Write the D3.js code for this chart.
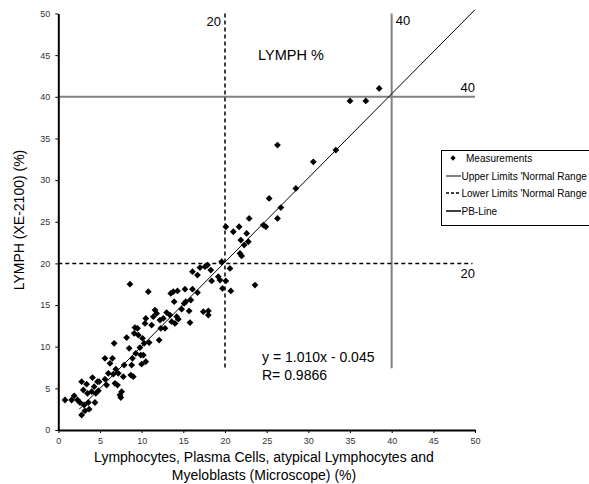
<!DOCTYPE html>
<html>
<head>
<meta charset="utf-8">
<script src="https://cdn.jsdelivr.net/npm/d3@7"></script>
<style>
  body { margin: 0; background: #fff; }
  svg { display: block; font-family: "Liberation Sans", Arial, sans-serif; }
</style>
</head>
<body>
<script>
const width = 589,
  height = 484,
  marginTop = 13.5,
  marginLeft = 58.3,
  plotRight = 475,
  plotBottom = 430;

// microscope count (x) vs XE-2100 (y), in %
const microscope = [
  0.8, 1.6, 1.9, 2.3, 2.6, 2.8, 2.8, 3.0, 3.1, 3.2, 3.4, 3.5, 3.6, 3.7, 4.0, 4.1, 4.3, 4.4, 4.5, 4.7, 4.8, 4.9,
  5.6, 5.6, 5.8, 6.0, 6.2, 6.5, 6.6, 6.7, 6.8, 6.9, 7.1, 7.2, 7.4, 7.6, 7.5, 7.8, 7.9, 8.2, 8.5, 8.6, 8.7, 8.8,
  8.9, 9.0, 9.1, 9.2, 9.3, 9.5, 9.6, 9.8, 9.9, 10.0, 10.1, 10.2, 10.3, 10.4, 10.5, 10.5, 10.8, 10.9,
  11.2, 11.4, 11.6, 11.8, 12.1, 12.2, 12.3, 12.6, 12.8, 13.0, 13.4, 13.5, 13.6, 13.8, 13.9, 14.0, 14.2, 14.3,
  14.4, 14.8, 15.1, 15.2, 15.3, 15.7, 15.8, 15.9, 16.1, 16.1, 16.7, 16.7, 17.0, 17.4, 17.6, 17.9, 18.0, 18.0,
  18.3, 18.4, 19.2, 19.4, 19.6, 19.7, 20.1, 20.1, 20.6, 20.7, 21.0, 21.7, 21.8, 21.9, 22.0, 22.3, 22.6, 22.8,
  23.6, 24.6, 24.9, 22.9, 26.3, 26.7, 25.3, 28.5, 26.3, 30.6, 33.3, 35.0, 36.9, 38.5
];
const xe2100 = [
  3.6, 3.6, 4.1, 3.6, 3.3, 5.8, 1.8, 4.8, 3.0, 2.3, 5.5, 4.4, 3.3, 2.5, 4.6, 6.3, 5.2, 3.3, 4.4, 5.8, 4.7, 5.8,
  6.1, 8.6, 5.4, 6.8, 8.0, 8.6, 6.7, 10.4, 5.6, 7.3, 5.4, 6.8, 4.2, 4.6, 3.9, 6.4, 7.8, 11.1, 9.8, 17.5, 6.6, 7.8,
  8.6, 6.4, 11.6, 12.3, 9.2, 12.2, 11.4, 9.9, 9.0, 7.9, 11.0, 9.0, 10.4, 12.8, 13.4, 8.2, 16.6, 10.5,
  12.6, 13.6, 14.4, 14.0, 10.8, 13.2, 12.2, 13.4, 12.2, 14.1, 13.8, 16.4, 13.0, 16.6, 15.4, 12.8, 13.6, 16.7,
  13.3, 14.5, 15.2, 16.9, 15.4, 14.3, 12.9, 15.6, 16.9, 19.0, 16.5, 18.6, 19.5, 14.2, 19.6, 19.8, 14.3, 13.8,
  19.2, 17.9, 18.4, 18.0, 20.2, 17.0, 17.9, 24.4, 19.4, 16.7, 23.8, 24.4, 21.2, 22.8, 20.9, 22.2, 23.6, 22.6,
  17.4, 24.6, 24.4, 25.4, 25.4, 26.7, 27.8, 29.0, 34.2, 32.2, 33.6, 39.5, 39.5, 41.0
];

const ticks = [0, 5, 10, 15, 20, 25, 30, 35, 40, 45, 50];
const upperLimit = 40;
const lowerLimit = 20;
const slope = 1.010, intercept = -0.045;
const legendLabels = ["Measurements", "Upper Limits 'Normal Range", "Lower Limits 'Normal Range", "PB-Line"];

const x = d3.scaleLinear().domain([0, 50]).range([marginLeft, plotRight]);
const y = d3.scaleLinear().domain([0, 50]).range([plotBottom, marginTop]);

const svg = d3.select("body").append("svg")
  .attr("width", width)
  .attr("height", height);

// limit lines
const grey = "#808080";
svg.append("line")
  .attr("x1", x(0)).attr("x2", x(50))
  .attr("y1", y(upperLimit)).attr("y2", y(upperLimit))
  .attr("stroke", grey).attr("stroke-width", 2);
svg.append("line")
  .attr("x1", x(upperLimit)).attr("x2", x(upperLimit))
  .attr("y1", y(50)).attr("y2", y(7.4))
  .attr("stroke", grey).attr("stroke-width", 2);
svg.append("line")
  .attr("x1", x(0)).attr("x2", x(49.7))
  .attr("y1", y(lowerLimit)).attr("y2", y(lowerLimit))
  .attr("stroke", "#000").attr("stroke-width", 1.5).attr("stroke-dasharray", "4,3");
svg.append("line")
  .attr("x1", x(lowerLimit)).attr("x2", x(lowerLimit))
  .attr("y1", y(50)).attr("y2", y(7.4))
  .attr("stroke", "#000").attr("stroke-width", 1.5).attr("stroke-dasharray", "4,3");

const limitText = svg.append("g").attr("font-size", 13).attr("fill", "#000");
limitText.append("text").attr("x", x(lowerLimit) - 4).attr("y", 26).attr("text-anchor", "end").text(lowerLimit);
limitText.append("text").attr("x", x(upperLimit) + 4).attr("y", 25).text(upperLimit);
limitText.append("text").attr("x", x(50)).attr("y", y(upperLimit) - 5).attr("text-anchor", "end").text(upperLimit);
limitText.append("text").attr("x", x(50)).attr("y", y(lowerLimit) + 15).attr("text-anchor", "end").text(lowerLimit);

// regression line
svg.append("line")
  .attr("x1", x(2.5)).attr("y1", y(slope * 2.5 + intercept))
  .attr("x2", x(50)).attr("y2", y(slope * 50 + intercept))
  .attr("stroke", "#000").attr("stroke-width", 1);

// points
const diamond = d3.symbol(d3.symbolSquare, 23);
svg.append("g")
  .selectAll("path")
  .data(microscope.map((d, i) => [d, xe2100[i]]))
  .join("path")
  .attr("d", diamond)
  .attr("transform", d => `translate(${x(d[0])},${y(d[1])}) rotate(45)`)
  .attr("fill", "#000");

// axes
const xAxis = svg.append("g")
  .attr("transform", `translate(0,${plotBottom})`)
  .call(d3.axisBottom(x).tickValues(ticks).tickSize(3).tickPadding(5).tickSizeOuter(0));
const yAxis = svg.append("g")
  .attr("transform", `translate(${marginLeft},0)`)
  .call(d3.axisLeft(y).tickValues(ticks).tickSize(3).tickPadding(5).tickSizeOuter(0));
[xAxis, yAxis].forEach(a => {
  a.attr("font-family", null).attr("font-size", 9);
  a.select(".domain").attr("stroke-width", 2);
  a.selectAll("text").attr("fill", "#333");
});

// titles
svg.append("text").attr("x", 258).attr("y", 60).attr("font-size", 14.5).text("LYMPH %");
svg.append("text").attr("x", 262).attr("y", 362).attr("font-size", 14).text("y = 1.010x - 0.045");
svg.append("text").attr("x", 262).attr("y", 380).attr("font-size", 14).text("R= 0.9866");

svg.append("text")
  .attr("transform", "translate(24,220) rotate(-90)")
  .attr("text-anchor", "middle").attr("font-size", 14)
  .text("LYMPH (XE-2100) (%)");
const xLabel = svg.append("text").attr("text-anchor", "middle").attr("font-size", 14);
xLabel.append("tspan").attr("x", 264).attr("y", 462).text("Lymphocytes, Plasma Cells, atypical Lymphocytes and");
xLabel.append("tspan").attr("x", 264).attr("y", 480).text("Myeloblasts (Microscope) (%)");

// legend (box runs off the right edge as in the original)
const legend = svg.append("g").attr("font-size", 10);
legend.append("rect")
  .attr("x", 441.5).attr("y", 150.5).attr("width", 160).attr("height", 75)
  .attr("fill", "#fff").attr("stroke", "#000").attr("stroke-width", 1);
const rowY = [158, 176, 193, 211];
legend.append("path")
  .attr("d", d3.symbol(d3.symbolSquare, 14))
  .attr("transform", `translate(453,${rowY[0]}) rotate(45)`);
legend.append("line").attr("x1", 446).attr("x2", 461).attr("y1", rowY[1]).attr("y2", rowY[1])
  .attr("stroke", grey).attr("stroke-width", 2);
legend.append("line").attr("x1", 446).attr("x2", 461).attr("y1", rowY[2]).attr("y2", rowY[2])
  .attr("stroke", "#000").attr("stroke-width", 1.5).attr("stroke-dasharray", "3,2");
legend.append("line").attr("x1", 446).attr("x2", 461).attr("y1", rowY[3]).attr("y2", rowY[3])
  .attr("stroke", "#000").attr("stroke-width", 1.5);
legend.selectAll(".lbl")
  .data(legendLabels)
  .join("text")
  .attr("class", "lbl")
  .attr("x", (d, i) => i === 0 ? 466 : 461.5)
  .attr("y", (d, i) => rowY[i] + 3.5)
  .text(d => d);
</script>
</body>
</html>
